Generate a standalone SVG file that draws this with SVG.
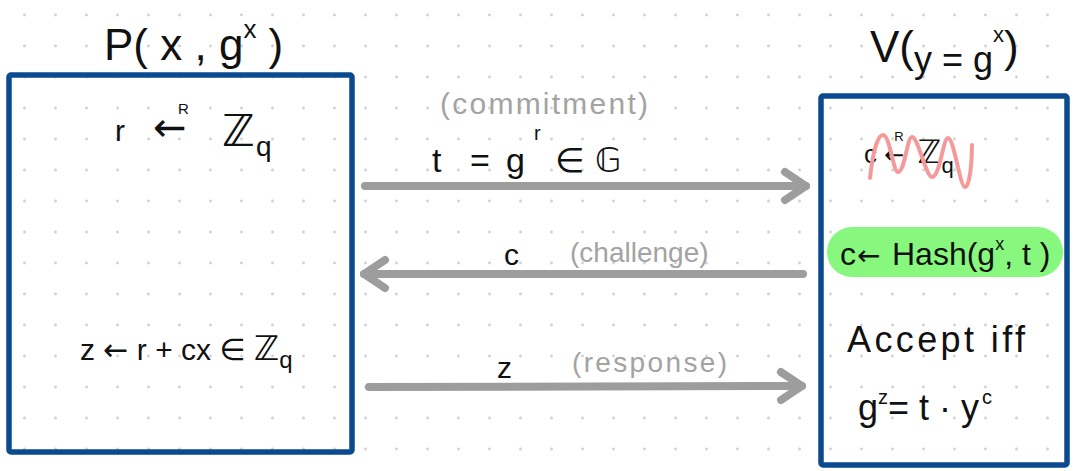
<svg xmlns="http://www.w3.org/2000/svg" width="1076" height="471" viewBox="0 0 1076 471">
  <defs>
    <pattern id="dots" patternUnits="userSpaceOnUse" x="0" y="0" width="31" height="31">
      <circle cx="24.5" cy="15" r="1.4" fill="#d0d0d0"/>
    </pattern>
    <marker id="ah" markerUnits="userSpaceOnUse" viewBox="-34 -24 44 48" refX="0" refY="0" markerWidth="44" markerHeight="48" orient="auto" overflow="visible">
      <path d="M-21,-14 L0,0 L-21,14" fill="none" stroke="#9d9d9d" stroke-width="8" stroke-linecap="round" stroke-linejoin="round"/>
    </marker>
    <style>
      .box { fill: none; stroke: #0b4a8e; stroke-width: 5.5; stroke-linejoin: round; }
      .hw { font-family: "Liberation Sans", "DejaVu Sans", sans-serif; fill: #111; }
      .gray { font-family: "Liberation Sans", "DejaVu Sans", sans-serif; fill: #a3a3a3; }
      .arr { font-family: "DejaVu Sans", sans-serif; }
      .arrow { fill: none; stroke: #9d9d9d; stroke-width: 8; stroke-linecap: round; marker-end: url(#ah); }
    </style>
  </defs>

  <rect width="1076" height="471" fill="#ffffff"/>
  <rect width="1076" height="471" fill="url(#dots)"/>

  <g id="prover">
    <rect class="box" x="9" y="75" width="343" height="377" rx="2"/>
    <text class="hw" x="104" y="60" font-size="44">P( x , g<tspan dy="-22" font-size="26">x</tspan><tspan dy="22"> )</tspan></text>
    <text class="hw" x="115" y="141" font-size="30">r<tspan class="arr" x="153" y="141" font-size="40">←</tspan><tspan x="178" y="114" font-size="15">R</tspan><tspan x="222" y="146" font-size="44">ℤ</tspan><tspan x="256" y="156" font-size="28">q</tspan></text>
    <text class="hw" x="80" y="360" font-size="30">z <tspan class="arr">←</tspan> r + cx ∈ <tspan font-size="34">ℤ</tspan><tspan dy="8" font-size="24">q</tspan></text>
  </g>

  <g id="verifier">
    <rect class="box" x="821" y="96" width="246" height="369" rx="2"/>
    <text class="hw" x="870" y="62" font-size="44">V(<tspan dy="10" font-size="36">y = g</tspan><tspan dy="-30" font-size="22">x</tspan><tspan dy="20" font-size="44">)</tspan></text>
    <g id="crossed-out">
      <text class="hw" x="864" y="163" font-size="26">c <tspan class="arr" font-size="24">←</tspan><tspan dx="-10" dy="-22" font-size="13">R</tspan><tspan dx="14" dy="22" font-size="32">ℤ</tspan><tspan dy="10" font-size="22">q</tspan></text>
      <path d="M870,178 C873,150 878,135 883,135 C890,135 893,172 898,172 C905,172 907,137 912,137 C918,137 926,177 932,177 C940,177 943,138 948,138 C954,138 960,187 965,187 C970,187 972,160 972,145" fill="none" stroke="#f59a9a" stroke-width="4" stroke-linecap="round" stroke-linejoin="round"/>
    </g>
    <g id="hash">
      <rect x="827" y="227" width="236" height="50" rx="25" fill="#87f77e"/>
      <text class="hw" x="840" y="265" font-size="32">c<tspan class="arr" x="857" y="265" font-size="28">←</tspan><tspan x="892" y="265">Hash(g</tspan><tspan dy="-15" font-size="18">x</tspan><tspan dy="15">, t )</tspan></text>
    </g>
    <text class="hw" x="847" y="352" font-size="36" textLength="178" lengthAdjust="spacing">Accept  iff</text>
    <text class="hw" x="858" y="420" font-size="36">g<tspan dy="-16" font-size="20">z</tspan><tspan dy="16">= t · y</tspan><tspan dx="3" dy="-16" font-size="20">c</tspan></text>
  </g>

  <g id="connectors">
    <path class="arrow" d="M365,186 L806,186"/>
    <path class="arrow" d="M803,274 L364,274"/>
    <path class="arrow" d="M369,387 L802,386"/>
    <text class="gray" x="440" y="114" font-size="30" textLength="208" lengthAdjust="spacing">(commitment)</text>
    <text class="hw" x="432" y="172" font-size="34">t<tspan x="470" y="172">=</tspan><tspan x="506" y="172">g</tspan><tspan x="534" y="140" font-size="20">r</tspan><tspan x="555" y="172">∈</tspan><tspan x="595" y="172">𝔾</tspan></text>
    <text class="hw" x="504" y="265" font-size="30">c</text>
    <text class="gray" x="570" y="262" font-size="28">(challenge)</text>
    <text class="hw" x="497" y="378" font-size="30">z</text>
    <text class="gray" x="572" y="372" font-size="28" textLength="155" lengthAdjust="spacing">(response)</text>
  </g>
</svg>
